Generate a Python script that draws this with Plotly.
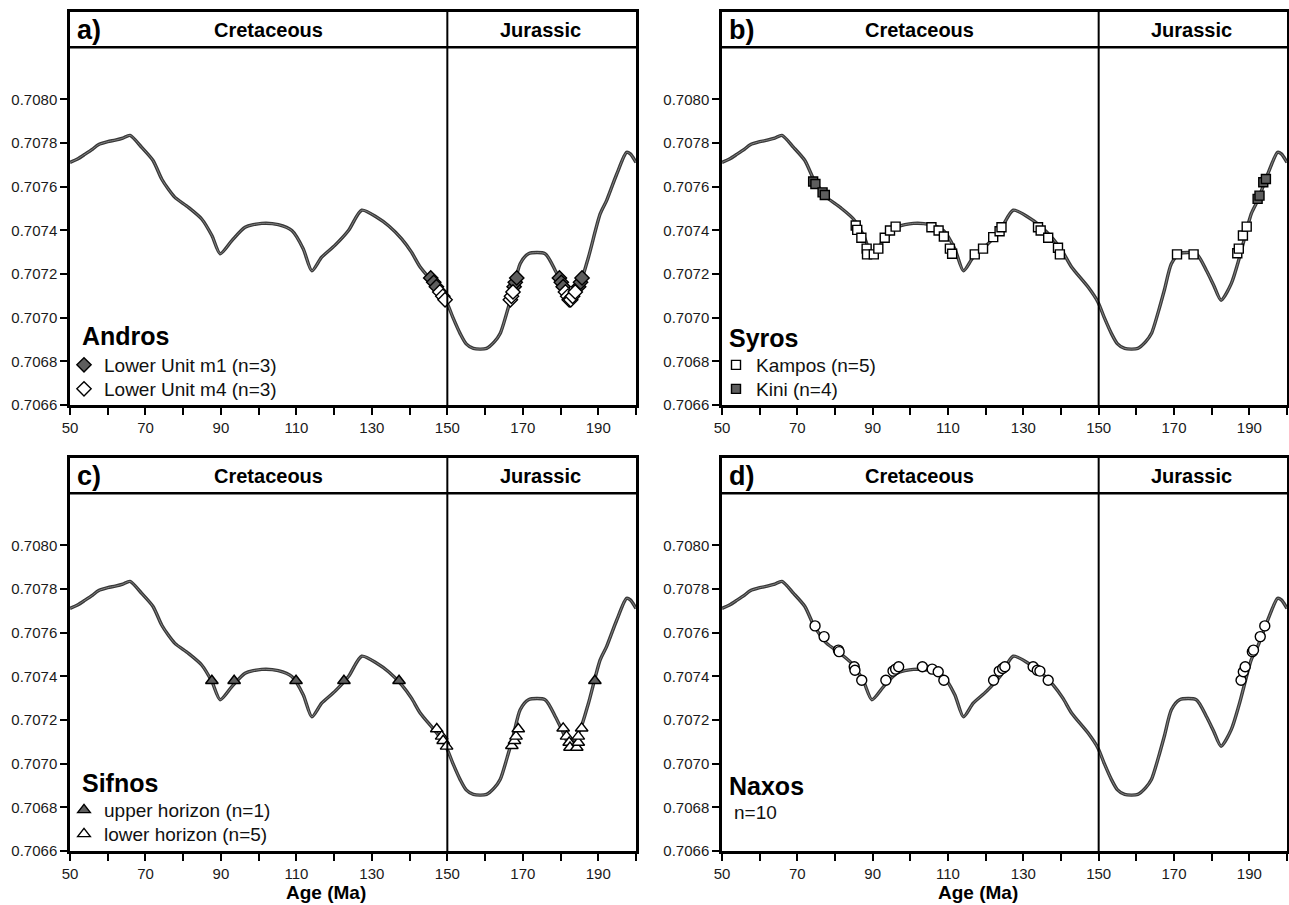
import plotly.graph_objects as go

# ---------------- data ----------------
curve_age = [50, 52, 54, 56, 57.5, 60, 62, 64, 65.9, 69, 72, 74.3, 76, 77.8, 81.4, 84.9, 87.6, 89.8,
             92.9, 96.4, 100.8, 105.2, 108.8, 111.8, 114.1, 116.7, 120.2, 123.8, 127.3, 131.3, 134.5,
             137.9, 140.5, 142.8, 147.2, 149.8, 151.5, 153.4, 155, 156.9, 160.4, 162.5, 164, 166.2,
             167.5, 169.3, 171.5, 175.9, 178.6, 180.5, 182.5, 185.2, 187.4, 190.5, 192.2, 194.9,
             197.5, 198.5, 200]
curve_sr = [0.707711, 0.707727, 0.707749, 0.707772, 0.707792, 0.707806, 0.707813, 0.707822, 0.707835,
            0.70778, 0.70772, 0.707635, 0.70759, 0.707551, 0.707505, 0.707452, 0.707376, 0.707293,
            0.707353, 0.707414, 0.707432, 0.707426, 0.707399, 0.707316, 0.707215, 0.707277, 0.707331,
            0.707399, 0.707492, 0.70746, 0.70742, 0.707361, 0.7073, 0.707232, 0.70714, 0.707072,
            0.707, 0.706927, 0.70688, 0.706859, 0.706859, 0.70689, 0.706927, 0.707049, 0.70713,
            0.707247, 0.707293, 0.707293, 0.707216, 0.70715, 0.70708, 0.707156, 0.707277, 0.707475,
            0.707536, 0.707658, 0.707757, 0.70775, 0.707711]

# a) Andros
m1_age = [145.6, 146.4, 147.1, 167.7, 168.0, 168.4, 179.7, 180.2, 180.7, 184.8, 185.3, 185.7]
m1_sr = [0.707182, 0.707162, 0.707142, 0.707142, 0.707162, 0.707182,
         0.707182, 0.707162, 0.707142, 0.707142, 0.707162, 0.707182]
m4_age = [148.0, 148.8, 149.4, 166.7, 167.0, 167.4, 181.3, 181.9, 182.3, 182.7, 183.2, 183.9]
m4_sr = [0.707118, 0.707098, 0.707082, 0.707082, 0.707098, 0.707118,
         0.707118, 0.707098, 0.707082, 0.707082, 0.707098, 0.707118]

# b) Syros
kampos_age = [85.5, 85.9, 87.0, 88.4, 88.5, 90.3, 91.5, 93.2, 94.6, 96.1, 105.6, 107.5, 108.9, 110.5,
              111.1, 117.1, 119.3, 122.0, 123.7, 124.2, 133.9, 134.6, 136.6, 139.2, 139.7, 170.8,
              175.2, 186.8, 187.2, 188.3, 189.3]
kampos_sr = [0.707422, 0.707402, 0.707366, 0.707316, 0.70729, 0.70729, 0.707316, 0.707366, 0.707399,
             0.707417, 0.707414, 0.707399, 0.707372, 0.707316, 0.707293, 0.70729, 0.707316, 0.707369,
             0.707396, 0.707414, 0.707414, 0.707399, 0.707366, 0.70732, 0.70729, 0.70729, 0.70729,
             0.707295, 0.707316, 0.707376, 0.707417]
kini_age = [74.2, 74.8, 76.7, 77.3, 192.2, 192.7, 193.7, 194.4]
kini_sr = [0.707624, 0.707612, 0.707574, 0.707562, 0.707544, 0.707559, 0.70762, 0.707635]

# c) Sifnos
upper_age = [87.6, 93.5, 109.9, 122.6, 137.2, 189.1]
upper_sr = [0.70738, 0.70738, 0.70738, 0.70738, 0.70738, 0.70738]
lower_age = [147.2, 148.5, 148.9, 149.8, 167.1, 167.8, 168.2, 168.8, 180.7, 181.6, 182.3, 182.5,
             184.3, 184.7, 184.7, 185.6]
lower_sr = [0.707159, 0.707125, 0.707105, 0.707079, 0.707082, 0.707105, 0.707125, 0.707159,
            0.707162, 0.707125, 0.707097, 0.707074, 0.707074, 0.707097, 0.707125, 0.707162]

# d) Naxos
naxos_age = [74.7, 77.1, 80.9, 81.1, 85.1, 85.3, 87.1, 93.5, 95.4, 96.1, 96.9, 103.2, 105.8, 107.4,
             108.9, 122.1, 123.6, 124.5, 125.1, 132.6, 133.7, 134.4, 136.6, 187.8, 188.4, 188.9,
             190.8, 191.1, 192.9, 194.1]
naxos_sr = [0.707631, 0.707582, 0.70752, 0.707513, 0.707444, 0.707428, 0.707382, 0.707382, 0.707424,
            0.707433, 0.707444, 0.707444, 0.707433, 0.707421, 0.707382, 0.707382, 0.707424, 0.707436,
            0.707444, 0.707444, 0.707428, 0.707424, 0.707382, 0.707382, 0.707421, 0.707444, 0.707513,
            0.70752, 0.707582, 0.707631]

x_ticks = [50, 60, 70, 80, 90, 100, 110, 120, 130, 140, 150, 160, 170, 180, 190, 200]
x_ticktext = ["50", "", "70", "", "90", "", "110", "", "130", "", "150", "", "170", "", "190", ""]
y_ticks = [0.7066, 0.7068, 0.7070, 0.7072, 0.7074, 0.7076, 0.7078, 0.7080]
y_ticktext = ["0.7066", "0.7068", "0.7070", "0.7072", "0.7074", "0.7076", "0.7078", "0.7080"]

panel_labels = ["a)", "b)", "c)", "d)"]
period_labels = ["Cretaceous", "Jurassic"]
island_labels = ["Andros", "Syros", "Sifnos", "Naxos"]
age_boundary = 150
header_base = 0.708238
y_range = [0.7066, 0.7084]

# ---------------- figure ----------------
W, H = 1289, 905
FONT = "Arial, Liberation Sans, sans-serif"

def px_x(p):
    return p / W

def px_y(p):
    return 1 - p / H

domains = {
    1: ([px_x(70), px_x(636)], [px_y(405), px_y(12)]),
    2: ([px_x(722), px_x(1287)], [px_y(405), px_y(12)]),
    3: ([px_x(70), px_x(636)], [px_y(851), px_y(458)]),
    4: ([px_x(722), px_x(1287)], [px_y(851), px_y(458)]),
}

fig = go.Figure()

def axes_of(i):
    return ("x" if i == 1 else f"x{i}"), ("y" if i == 1 else f"y{i}")

def add_curve(i):
    xa, ya = axes_of(i)
    fig.add_trace(go.Scatter(x=curve_age, y=curve_sr, mode="lines", xaxis=xa, yaxis=ya,
                             line=dict(color="#383838", width=3.4, shape="spline", smoothing=0.7),
                             showlegend=False, hoverinfo="skip"))
    fig.add_trace(go.Scatter(x=curve_age, y=curve_sr, mode="lines", xaxis=xa, yaxis=ya,
                             line=dict(color="#8c8c8c", width=0.9, shape="spline", smoothing=0.7),
                             showlegend=False, hoverinfo="skip"))

def add_pts(i, xs, ys, symbol, fill, name, legend, size):
    xa, ya = axes_of(i)
    fig.add_trace(go.Scatter(x=xs, y=ys, mode="markers", xaxis=xa, yaxis=ya, name=name,
                             legend=legend, showlegend=legend is not None,
                             marker=dict(symbol=symbol, size=size, color=fill,
                                         line=dict(color="black", width=1.4))))

for i in range(1, 5):
    add_curve(i)

add_pts(1, m1_age, m1_sr, "diamond", "#5e5e5e", "Lower Unit m1 (n=3)", "legend", 11)
add_pts(1, m4_age, m4_sr, "diamond", "white", "Lower Unit m4 (n=3)", "legend2", 11)
add_pts(2, kampos_age, kampos_sr, "square", "white", "Kampos (n=5)", "legend3", 9)
add_pts(2, kini_age, kini_sr, "square", "#5e5e5e", "Kini (n=4)", "legend4", 9)
add_pts(3, upper_age, upper_sr, "triangle-up", "#5e5e5e", "upper horizon (n=1)", "legend5", 11)
add_pts(3, lower_age, lower_sr, "triangle-up", "white", "lower horizon (n=5)", "legend6", 11)
add_pts(4, naxos_age, naxos_sr, "circle", "white", "Naxos", None, 10)

layout = dict(width=W, height=H, margin=dict(l=0, r=0, t=0, b=0, autoexpand=False),
              paper_bgcolor="white", plot_bgcolor="white",
              font=dict(family=FONT, color="#1a1a1a", size=15), showlegend=True)

for i in range(1, 5):
    dx, dy = domains[i]
    xa, ya = axes_of(i)
    xk = "xaxis" if i == 1 else f"xaxis{i}"
    yk = "yaxis" if i == 1 else f"yaxis{i}"
    layout[xk] = dict(domain=dx, anchor=ya, range=[50, 200], showgrid=False, zeroline=False,
                      showline=True, linecolor="black", linewidth=2.5, mirror=True,
                      ticks="outside", ticklen=7, tickwidth=2, tickcolor="black",
                      tickvals=x_ticks, ticktext=x_ticktext, automargin=False,
                      tickfont=dict(size=15, family=FONT, color="#1a1a1a"))
    layout[yk] = dict(domain=dy, anchor=xa, range=y_range, showgrid=False, zeroline=False,
                      showline=True, linecolor="black", linewidth=2.5, mirror=True,
                      ticks="outside", ticklen=7, tickwidth=2, tickcolor="black",
                      tickvals=y_ticks, ticktext=y_ticktext, automargin=False,
                      tickfont=dict(size=15, family=FONT, color="#1a1a1a"))

legend_common = dict(bgcolor="rgba(0,0,0,0)", borderwidth=0, xanchor="left", yanchor="middle",
                     font=dict(size=19, family=FONT, color="#111"), itemwidth=30,
                     tracegroupgap=0, orientation="v")
# legend rows: (left px, row centre px)
legend_rows = {"legend": (64, 365), "legend2": (64, 389),
               "legend3": (716, 365), "legend4": (716, 389),
               "legend5": (64, 810), "legend6": (64, 834)}
for key, (lx, ly) in legend_rows.items():
    layout[key] = dict(legend_common, x=px_x(lx), y=px_y(ly))

fig.update_layout(**layout)

shapes = []
annotations = []
for i in range(1, 5):
    xa, ya = axes_of(i)
    shapes.append(dict(type="line", xref=xa, yref=ya, x0=50, x1=200, y0=header_base, y1=header_base,
                       line=dict(color="black", width=2.5)))
    shapes.append(dict(type="line", xref=xa, yref=ya, x0=age_boundary, x1=age_boundary,
                       y0=y_range[0], y1=y_range[1], line=dict(color="black", width=2)))
    header_mid = (header_base + y_range[1]) / 2
    annotations.append(dict(xref=xa, yref=ya, x=51.3, y=header_mid, text=f"<b>{panel_labels[i-1]}</b>",
                            showarrow=False, xanchor="left", yanchor="middle",
                            font=dict(size=27, family=FONT, color="black")))
    annotations.append(dict(xref=xa, yref=ya, x=102.5, y=header_mid, text=f"<b>{period_labels[0]}</b>",
                            showarrow=False, xanchor="center", yanchor="middle",
                            font=dict(size=20, family=FONT, color="black")))
    annotations.append(dict(xref=xa, yref=ya, x=174.6, y=header_mid, text=f"<b>{period_labels[1]}</b>",
                            showarrow=False, xanchor="center", yanchor="middle",
                            font=dict(size=20, family=FONT, color="black")))

# island titles
title_pos = {1: (80, 336), 2: (727, 338), 3: (80, 783), 4: (727, 786)}
for i in range(1, 5):
    px, py = title_pos[i]
    annotations.append(dict(xref="paper", yref="paper", x=px_x(px), y=px_y(py),
                            text=f"<b>{island_labels[i-1]}</b>", showarrow=False,
                            xanchor="left", yanchor="middle",
                            font=dict(size=25, family=FONT, color="black")))
annotations.append(dict(xref="paper", yref="paper", x=px_x(732), y=px_y(812), text="n=10",
                        showarrow=False, xanchor="left", yanchor="middle",
                        font=dict(size=19, family=FONT, color="#111")))
# x axis titles
for cx in [326, 978]:
    annotations.append(dict(xref="paper", yref="paper", x=px_x(cx), y=px_y(892), text="<b>Age (Ma)</b>",
                            showarrow=False, xanchor="center", yanchor="middle",
                            font=dict(size=19, family=FONT, color="black")))

fig.update_layout(shapes=shapes, annotations=annotations)
fig.write_html("out.html", config={"displayModeBar": False},
               post_script="document.body.style.margin='0';document.body.style.overflow='hidden';")
